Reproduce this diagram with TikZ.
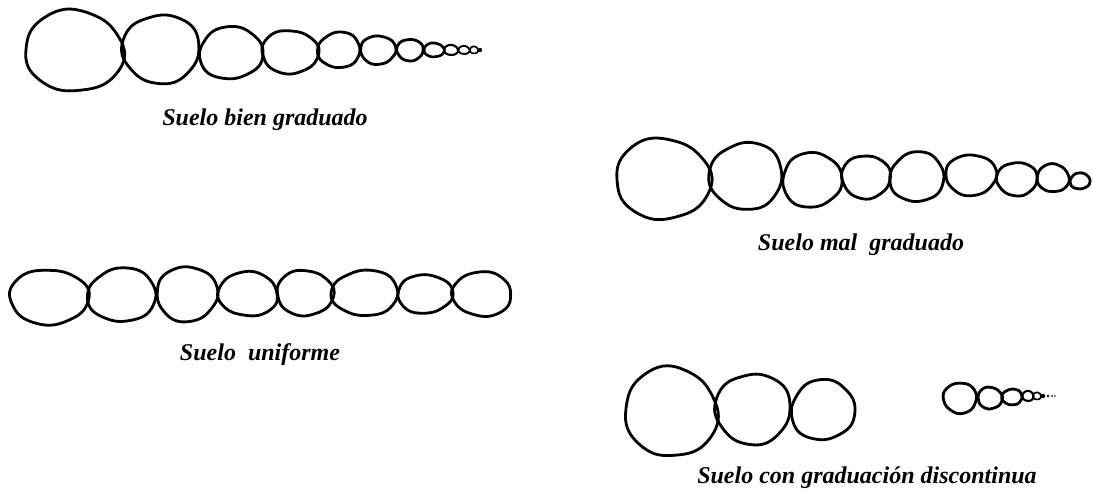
\documentclass[tikz,border=0pt]{standalone}
\usepackage{fontspec}
\setmainfont{Liberation Serif}
\begin{document}
% Hand-drawn looking soil grains: each grain is a slightly wobbly closed curve.
% \grain{cx}{cy}{rx}{ry}{phase}
\newcommand\grainwob[2]{(1+0.02*sin(2*#1+#2)+0.025*sin(3*#1+2*#2)+0.01*sin(7*#1+3*#2))}
\newcommand\grain[5]{%
  \pgfmathsetmacro\grainlw{min(2.8,0.28*#4+0.7)}%
  \draw[line width=\grainlw pt, line join=round]
    plot[smooth cycle, samples=36, domain=0:350]
    ({#1+#3*cos(\x)*\grainwob{\x}{#5}},
     {#2+#4*sin(\x)*\grainwob{\x}{#5}});%
}
\tikzset{label text/.style={font=\bfseries\itshape\fontsize{24}{28}\selectfont, anchor=base, inner sep=0pt}}
\begin{tikzpicture}[x=1pt,y=-1pt]
\useasboundingbox (0,0) rectangle (1093,491);

% well graded soil
\grain{74}{51}{49}{41}{20}
\grain{161}{49}{38}{35}{110}
\grain{231}{53}{32}{26}{200}
\grain{290}{52}{28}{22}{60}
\grain{339}{50}{21}{18}{150}
\grain{378}{50}{18}{14}{250}
\grain{410}{50}{13}{11}{90}
\grain{434}{50}{10}{7}{30}
\grain{451}{50}{7}{5}{0}
\grain{464}{50}{5.5}{4}{0}
\grain{474}{50}{4}{3.5}{0}
\fill (480,50) circle (2.2);
\node[label text] (l1) at (265,125) {Suelo bien graduado};

% poorly graded soil
\grain{663}{179}{47}{41}{40}
\grain{746}{176}{36}{34}{130}
\grain{812}{180}{30}{27}{220}
\grain{866}{177}{24}{22}{80}
\grain{917}{177}{27}{25}{170}
\grain{971}{175}{26}{20}{260}
\grain{1017}{179}{20}{17}{100}
\grain{1053}{178}{16}{14}{10}
\grain{1080}{181}{10}{8}{190}
\node[label text] (l2) at (861,250) {Suelo mal\ \ graduado};

% uniform soil
\grain{49}{297}{39}{28}{70}
\grain{122}{295}{34}{27}{160}
\grain{187}{294}{31}{27}{250}
\grain{248}{294}{30}{22}{340}
\grain{305}{293}{28}{23}{50}
\grain{365}{293}{33}{23}{140}
\grain{425}{294}{28}{19}{230}
\grain{482}{294}{30}{22}{320}
\node[label text] (l3) at (260,360) {Suelo\ \ uniforme};

% gap graded soil
\grain{671}{412}{46}{45}{15}
\grain{753}{409}{37}{36}{105}
\grain{823}{410}{32}{30}{195}
\grain{960}{398}{17}{15}{285}
\grain{990}{398}{12}{11}{45}
\grain{1012}{397}{10}{8}{135}
\grain{1028}{396}{5.5}{5}{0}
\grain{1037}{396}{4}{3.5}{0}
\fill (1043,396) circle (2.2);
\fill (1048,396) circle (1.3);
\fill (1052,396) circle (1);
\fill (1055,396) circle (0.8);
\node[label text] (l4) at (867,483) {Suelo con graduación discontinua};
\end{tikzpicture}
\end{document}
